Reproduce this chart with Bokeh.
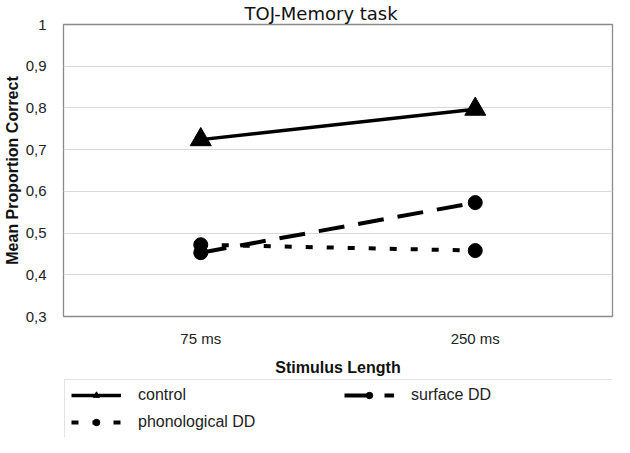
from bokeh.plotting import figure
from bokeh.layouts import column
from bokeh.models import (FactorRange, Range1d, Legend, LegendItem,
                          CustomJSTickFormatter, FixedTicker)
from bokeh.embed import file_html
from bokeh.resources import INLINE

categories = ["75 ms", "250 ms"]
control = [0.724, 0.797]
surface_dd = [0.453, 0.573]
phonological_dd = [0.472, 0.458]
y_ticks = [0.3, 0.4, 0.5, 0.6, 0.7, 0.8, 0.9, 1.0]
series_names = ["control", "surface DD", "phonological DD"]

FONT = "Liberation Sans"

p = figure(width=614, height=378,
           x_range=FactorRange(factors=categories, range_padding=0),
           y_range=Range1d(0.3, 1.0),
           output_backend="svg", toolbar_location=None,
           min_border_left=52, min_border_right=2, min_border_top=0,
           min_border_bottom=60,
           background_fill_color="white", border_fill_color="white")

# title
p.title.text = "TOJ-Memory task"
p.title.align = "left"
p.title.offset = 181
p.title.text_font = "DejaVu Sans"
p.title.text_font_size = "18px"
p.title.text_font_style = "normal"
p.title.text_color = "#111111"
p.title.standoff = 1

# frame
p.outline_line_color = "#8a8a8a"
p.outline_line_width = 1.3
p.xgrid.grid_line_color = None
p.ygrid.grid_line_color = "#d9d9d9"
p.ygrid.grid_line_width = 1.2

# y axis
p.yaxis.ticker = FixedTicker(ticks=y_ticks)
p.yaxis.formatter = CustomJSTickFormatter(
    code="return tick > 0.99 ? '1' : tick.toFixed(1).replace('.', ',');")
p.yaxis.axis_label = "Mean Proportion Correct"
p.yaxis.axis_label_text_font = FONT
p.yaxis.axis_label_text_font_style = "bold"
p.yaxis.axis_label_text_font_size = "16px"
p.yaxis.axis_label_text_color = "#111111"
p.yaxis.axis_label_standoff = 2
p.yaxis.major_label_text_font = FONT
p.yaxis.major_label_text_font_size = "15px"
p.yaxis.major_label_text_color = "#222222"
p.yaxis.major_label_standoff = 11
p.yaxis.axis_line_color = None
p.yaxis.major_tick_line_color = None
p.yaxis.minor_tick_line_color = None

# x axis
p.xaxis.axis_label = "Stimulus Length"
p.xaxis.axis_label_text_font = FONT
p.xaxis.axis_label_text_font_style = "bold"
p.xaxis.axis_label_text_font_size = "16px"
p.xaxis.axis_label_text_color = "#111111"
p.xaxis.axis_label_standoff = 9
p.xaxis.major_label_text_font = FONT
p.xaxis.major_label_text_font_size = "15px"
p.xaxis.major_label_text_color = "#222222"
p.xaxis.major_label_standoff = 7
p.xaxis.axis_line_color = None
p.xaxis.major_tick_line_color = None
p.xaxis.minor_tick_line_color = None

# series styles
styles = [
    dict(values=control, marker="triangle", size=21, dash="solid", lw=3.5),
    dict(values=surface_dd, marker="circle", size=14, dash="26 14", lw=4),
    dict(values=phonological_dd, marker="circle", size=14, dash="7 14", lw=4),
]

for st in styles:
    p.line(categories, st["values"], line_width=st["lw"], line_color="black",
           line_dash=st["dash"])
    p.scatter(categories, st["values"], marker=st["marker"], size=st["size"],
              color="black")

# legend panel (separate strip below the chart)
q = figure(width=614, height=59, title=None,
           x_range=FactorRange(factors=categories, range_padding=0),
           y_range=Range1d(0.3, 1.0),
           output_backend="svg", toolbar_location=None,
           min_border=0, outline_line_color=None,
           background_fill_color="white", border_fill_color="white")
q.axis.visible = False
q.grid.visible = False

items = []
for name, st in zip(series_names, styles):
    rl = q.line(categories, st["values"], line_width=st["lw"],
                line_color="black", line_dash=st["dash"], visible=False)
    rm = q.scatter(categories, st["values"], marker=st["marker"],
                   size=st["size"], color="black", visible=False)
    items.append(LegendItem(label=name, renderers=[rl, rm]))

# column-major fill: control, phonological DD | surface DD
legend = Legend(items=[items[0], items[2], items[1]], ncols=2)
legend.location = "top_left"
legend.glyph_width = 50
legend.glyph_height = 16
legend.label_height = 16
legend.label_width = 197
legend.label_standoff = 17
legend.spacing = 9
legend.padding = 6
legend.margin = 1
legend.label_text_font = FONT
legend.label_text_font_size = "16px"
legend.label_text_color = "#222222"
legend.border_line_color = "#c8c8c8"
legend.border_line_width = 1.2
legend.background_fill_color = "white"
legend.inactive_fill_alpha = 0
q.add_layout(legend, "center")

layout = column(p, q, spacing=0)
open("out.html", "w").write(file_html(layout, INLINE))
